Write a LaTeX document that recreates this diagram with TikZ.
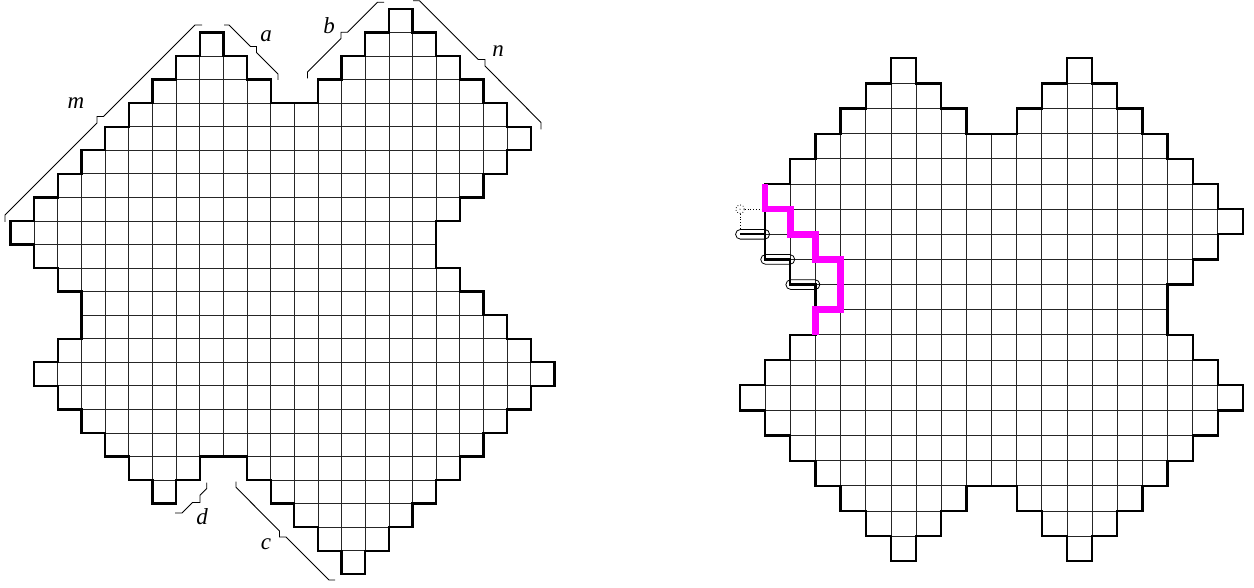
\documentclass[tikz,border=0pt]{standalone}
\usepackage{fontspec}
\setmainfont{Liberation Serif}
\usetikzlibrary{shapes.misc, positioning}
\definecolor{flip}{RGB}{255, 0, 255}

\begin{document}
\begin{tikzpicture}[x=1pt, y=-1pt,
    cell/.style={draw=black!85, line width=0.8pt},
    rim/.style={draw=black, line width=2.3pt, line join=miter},
    brace/.style={draw=black, line width=0.9pt},
    lbl/.style={font=\fontsize{23}{25}\selectfont\itshape, inner sep=0pt},
    slide/.style={draw=flip, line width=6.5pt, line cap=butt, line join=miter},
    pill/.style={draw=black, rounded rectangle, minimum width=34pt, minimum height=9.7pt, inner sep=0pt, line width=0.8pt},
  ]
  \useasboundingbox (0,0) rectangle (1254,588);

  % left board
  \begin{scope}[shift={(10.5,9)}, x=23.65pt, y=-23.55pt]
    \foreach \r/\a/\b in {0/16/16, 1/8/8, 1/15/17, 2/7/9, 2/14/18, 3/6/10, 3/13/19,
        4/5/20, 5/4/21, 6/3/20, 7/2/19, 8/1/18, 9/0/17, 10/1/17, 11/2/18, 12/3/19,
        13/3/20, 14/2/21, 15/1/22, 16/2/21, 17/3/20, 18/4/19, 19/5/7, 19/10/18,
        20/6/6, 20/11/17, 21/12/16, 22/13/15, 23/14/14}
      \foreach \c in {\a,...,\b}
        \draw[cell] (\c,\r) rectangle ++(1,1);
    \draw[rim] (16,0) -- (17,0) -- (17,1) -- (18,1) -- (18,2) -- (19,2) -- (19,3) -- (20,3)
      -- (20,4) -- (21,4) -- (21,5) -- (22,5) -- (22,6) -- (21,6) -- (21,7) -- (20,7)
      -- (20,8) -- (19,8) -- (19,9) -- (18,9) -- (18,11) -- (19,11) -- (19,12) -- (20,12)
      -- (20,13) -- (21,13) -- (21,14) -- (22,14) -- (22,15) -- (23,15) -- (23,16) -- (22,16)
      -- (22,17) -- (21,17) -- (21,18) -- (20,18) -- (20,19) -- (19,19) -- (19,20) -- (18,20)
      -- (18,21) -- (17,21) -- (17,22) -- (16,22) -- (16,23) -- (15,23) -- (15,24) -- (14,24)
      -- (14,23) -- (13,23) -- (13,22) -- (12,22) -- (12,21) -- (11,21) -- (11,20) -- (10,20)
      -- (10,19) -- (8,19) -- (8,20) -- (7,20) -- (7,21) -- (6,21) -- (6,20) -- (5,20)
      -- (5,19) -- (4,19) -- (4,18) -- (3,18) -- (3,17) -- (2,17) -- (2,16) -- (1,16)
      -- (1,15) -- (2,15) -- (2,14) -- (3,14) -- (3,12) -- (2,12) -- (2,11) -- (1,11)
      -- (1,10) -- (0,10) -- (0,9) -- (1,9) -- (1,8) -- (2,8) -- (2,7) -- (3,7)
      -- (3,6) -- (4,6) -- (4,5) -- (5,5) -- (5,4) -- (6,4) -- (6,3) -- (7,3)
      -- (7,2) -- (8,2) -- (8,1) -- (9,1) -- (9,2) -- (10,2) -- (10,3) -- (11,3)
      -- (11,4) -- (13,4) -- (13,3) -- (14,3) -- (14,2) -- (15,2) -- (15,1) -- (16,1) -- cycle;
  \end{scope}

  % braces of the left board
  \draw[brace] (5,222) -- (5,215) -- (97,123) -- (97,116.5) -- (103.5,116.5) -- (195,25) -- (202,25);
  \draw[brace] (224,25) -- (229,25) -- (250.5,46.5) -- (256.5,46.5) -- (256.5,52.5) -- (278,74) -- (278,80);
  \draw[brace] (307.5,78.5) -- (307.5,72) -- (341,38.5) -- (341,32.3) -- (347.5,32.3) -- (377.5,2.3) -- (384,2.3);
  \draw[brace] (413,0.8) -- (419.5,0.8) -- (478.3,59.5) -- (485,59.5) -- (485,66) -- (541,122.5) -- (541,129.3);
  \draw[brace] (206.7,482.7) -- (206.7,488.5) -- (200,495.2) -- (200,502.5) -- (192.5,502.5) -- (182,513) -- (175,513);
  \draw[brace] (236,481.7) -- (236,487.3) -- (279.5,531) -- (279.5,537) -- (286,537) -- (329,580) -- (335,580);
  \node[lbl] (lblm) at (76,103) {m};
  \node[lbl] (lbla) at (266,36) {a};
  \node[lbl] (lblb) at (329,26) {b};
  \node[lbl] (lbln) at (498,51) {n};
  \node[lbl] (lbld) at (202,517) {d};
  \node[lbl] (lblc) at (266,544) {c};

  % right board
  \begin{scope}[shift={(740,58.25)}, x=25.15pt, y=-25.15pt]
    \foreach \r/\a/\b in {0/6/6, 0/13/13, 1/5/7, 1/12/14, 2/4/8, 2/11/15, 3/3/16,
        4/2/17, 5/1/18, 6/1/19, 7/1/18, 8/2/17, 9/3/16, 10/3/16, 11/2/17, 12/1/18,
        13/0/19, 14/1/18, 15/2/17, 16/3/16, 17/4/8, 17/11/15, 18/5/7, 18/12/14,
        19/6/6, 19/13/13}
      \foreach \c in {\a,...,\b}
        \draw[cell] (\c,\r) rectangle ++(1,1);
    \draw[rim] (6,0) -- (7,0) -- (7,1) -- (8,1) -- (8,2) -- (9,2) -- (9,3) -- (11,3)
      -- (11,2) -- (12,2) -- (12,1) -- (13,1) -- (13,0) -- (14,0) -- (14,1) -- (15,1)
      -- (15,2) -- (16,2) -- (16,3) -- (17,3) -- (17,4) -- (18,4) -- (18,5) -- (19,5)
      -- (19,6) -- (20,6) -- (20,7) -- (19,7) -- (19,8) -- (18,8) -- (18,9) -- (17,9)
      -- (17,11) -- (18,11) -- (18,12) -- (19,12) -- (19,13) -- (20,13) -- (20,14) -- (19,14)
      -- (19,15) -- (18,15) -- (18,16) -- (17,16) -- (17,17) -- (16,17) -- (16,18) -- (15,18)
      -- (15,19) -- (14,19) -- (14,20) -- (13,20) -- (13,19) -- (12,19) -- (12,18) -- (11,18)
      -- (11,17) -- (9,17) -- (9,18) -- (8,18) -- (8,19) -- (7,19) -- (7,20) -- (6,20)
      -- (6,19) -- (5,19) -- (5,18) -- (4,18) -- (4,17) -- (3,17) -- (3,16) -- (2,16)
      -- (2,15) -- (1,15) -- (1,14) -- (0,14) -- (0,13) -- (1,13) -- (1,12) -- (2,12)
      -- (2,11) -- (3,11) -- (3,9) -- (2,9) -- (2,8) -- (1,8) -- (1,5) -- (2,5)
      -- (2,4) -- (3,4) -- (3,3) -- (4,3) -- (4,2) -- (5,2) -- (5,1) -- (6,1) -- cycle;
    \draw[rim] (0,7) -- (1,7);
    % removed corner and the edges that move
    \node[draw, circle, dotted, minimum size=8.6pt, inner sep=0pt, line width=0.8pt] (gap) at (0,6) {};
    \fill (gap.center) circle (0.6pt);
    \node[pill] (pill1) at (0.5,7) {};
    \node[pill] (pill2) at (1.5,8) {};
    \node[pill] (pill3) at (2.5,9) {};
    \draw[dotted, line width=0.8pt] (gap) -- (1,6);
    \draw[dotted, line width=0.8pt] (gap) -- (gap |- pill1.north);
    \draw[slide] (1,5) -- (1,6) -- (2,6) -- (2,7) -- (3,7) -- (3,8) -- (4,8) -- (4,10) -- (3,10) -- (3,11);
  \end{scope}
\end{tikzpicture}
\end{document}
